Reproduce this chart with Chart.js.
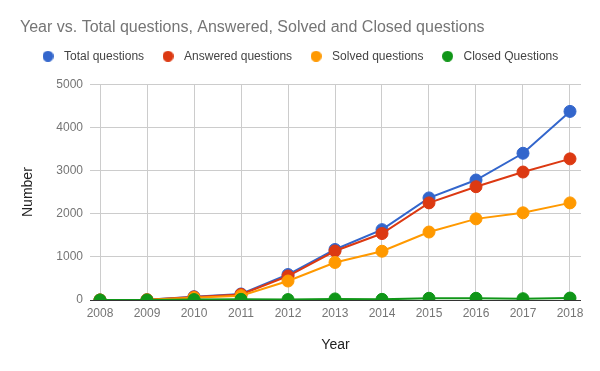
<!DOCTYPE html>
<html>
<head>
<meta charset="utf-8">
<script src="https://cdn.jsdelivr.net/npm/chart.js@4.4.0/dist/chart.umd.min.js"></script>
<style>
  html, body { margin: 0; padding: 0; background: #fff; }
  #wrap { width: 600px; height: 371px; }
</style>
</head>
<body>
<div id="wrap"><canvas id="chart" width="600" height="371"></canvas></div>
<script>
// ---- data ----
const years = [2008, 2009, 2010, 2011, 2012, 2013, 2014, 2015, 2016, 2017, 2018];
const totalQuestions = [0, 5, 75, 140, 590, 1170, 1630, 2365, 2780, 3400, 4370];
const answeredQuestions = [0, 5, 70, 130, 555, 1135, 1540, 2250, 2625, 2965, 3270];
const solvedQuestions = [0, 3, 55, 100, 440, 870, 1130, 1575, 1880, 2020, 2250];
const closedQuestions = [0, 0, 10, 15, 10, 25, 15, 40, 40, 30, 45];
const yTicks = [0, 1000, 2000, 3000, 4000, 5000];

const FONT = "'Liberation Sans', Arial, sans-serif";

function series(label, values, color, order) {
  return {
    label: label,
    data: years.map((y, i) => ({ x: y, y: values[i] })),
    borderColor: color,
    backgroundColor: color,
    borderWidth: 2,
    pointRadius: 6,
    pointBorderWidth: 1,
    pointHoverRadius: 6,
    clip: 0,
    order: order
  };
}

// 범례용 원형 마커 (캔버스 이미지)
function dot(color) {
  const c = document.createElement("canvas");
  c.width = 11; c.height = 11;
  const g = c.getContext("2d");
  g.fillStyle = color;
  g.beginPath();
  g.arc(5.5, 5.5, 5.5, 0, Math.PI * 2);
  g.fill();
  return c;
}

// 제목/범례 위치 미세 조정
const nudge = {
  id: "nudge",
  afterLayout(chart) {
    const t = chart.titleBlock;
    t.left += 20; t.right += 20;
    const lg = chart.legend;
    lg.left += 24; lg.right += 24;
    lg.top -= 12; lg.bottom -= 12;
  }
};

new Chart(document.getElementById("chart").getContext("2d"), {
  type: "line",
  data: {
    datasets: [
      series("Total questions", totalQuestions, "#3366cc", 4),
      series("Answered questions", answeredQuestions, "#dc3912", 3),
      series("Solved questions", solvedQuestions, "#ff9900", 2),
      series("Closed Questions", closedQuestions, "#109618", 1)
    ]
  },
  plugins: [nudge],
  options: {
    responsive: false,
    animation: false,
    layout: { padding: { left: 0, right: 19, top: 0, bottom: 0 } },
    plugins: {
      title: {
        display: true,
        text: "Year vs. Total questions, Answered, Solved and Closed questions",
        align: "start",
        color: "#757575",
        font: { family: FONT, size: 16, weight: "normal" },
        padding: { top: 18, bottom: 11 }
      },
      legend: {
        align: "start",
        labels: {
          usePointStyle: true,
          pointStyleWidth: 20,
          boxHeight: 8,
          padding: 14,
          color: "#444",
          font: { family: FONT, size: 12 },
          sort: (a, b) => a.datasetIndex - b.datasetIndex,
          generateLabels: chart => {
            const items = Chart.defaults.plugins.legend.labels.generateLabels(chart);
            items.forEach(it => { it.pointStyle = dot(it.strokeStyle); });
            return items;
          }
        }
      },
      tooltip: { enabled: false }
    },
    scales: {
      x: {
        type: "linear",
        min: years[0] - 10 / 47,
        max: years[years.length - 1] + 11 / 47,
        afterBuildTicks: axis => { axis.ticks = years.map(v => ({ value: v })); },
        afterFit: axis => { axis.height = 71; },
        grid: { color: "#cccccc", drawTicks: false },
        border: { display: false },
        ticks: {
          color: "#757575",
          font: { family: FONT, size: 12 },
          padding: 6,
          maxRotation: 0,
          autoSkip: false,
          callback: v => String(v)
        },
        title: {
          display: true,
          text: "Year",
          color: "#222",
          font: { family: FONT, size: 14 },
          padding: { top: 0, bottom: 17 }
        }
      },
      y: {
        min: 0,
        max: 5000,
        afterBuildTicks: axis => { axis.ticks = yTicks.map(v => ({ value: v })); },
        afterFit: axis => { axis.width = 90; },
        grid: {
          color: ctx => (ctx.tick && ctx.tick.value === 0 ? "#333333" : "#cccccc"),
          drawTicks: false
        },
        border: { display: false },
        ticks: {
          color: "#757575",
          font: { family: FONT, size: 12 },
          padding: 7,
          callback: v => String(v)
        },
        title: {
          display: true,
          text: "Number",
          color: "#222",
          font: { family: FONT, size: 14 },
          padding: { top: 20, bottom: 0 }
        }
      }
    }
  }
});
</script>
</body>
</html>
